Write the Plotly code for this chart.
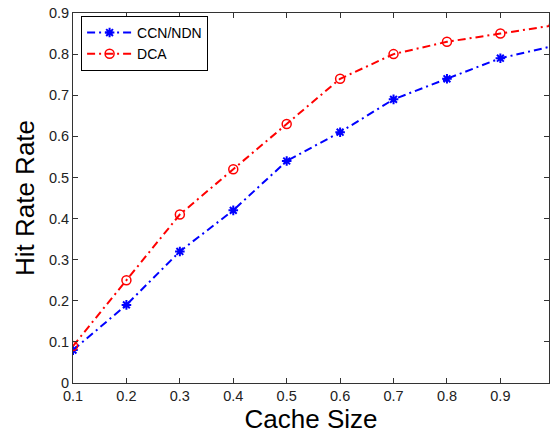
import plotly.graph_objects as go

cache_size = [0.1, 0.2, 0.3, 0.4, 0.5, 0.6, 0.7, 0.8, 0.9, 1.0]
ccn_ndn = [0.08, 0.19, 0.32, 0.42, 0.54, 0.61, 0.69, 0.74, 0.79, 0.82]
dca = [0.09, 0.25, 0.41, 0.52, 0.63, 0.74, 0.80, 0.83, 0.85, 0.87]

x_ticks = [0.1, 0.2, 0.3, 0.4, 0.5, 0.6, 0.7, 0.8, 0.9]
x_tick_labels = ["0.1", "0.2", "0.3", "0.4", "0.5", "0.6", "0.7", "0.8", "0.9"]
y_ticks = [0, 0.1, 0.2, 0.3, 0.4, 0.5, 0.6, 0.7, 0.8, 0.9]
y_tick_labels = ["0", "0.1", "0.2", "0.3", "0.4", "0.5", "0.6", "0.7", "0.8", "0.9"]

fig = go.Figure()
fig.add_trace(go.Scatter(
    x=cache_size, y=ccn_ndn, name="CCN/NDN", mode="lines+markers",
    line=dict(color="#0000ff", width=2, dash="8px,4px,2px,4px"),
    marker=dict(symbol="asterisk-open", size=8, color="#0000ff",
                line=dict(color="#0000ff", width=2)),
))
fig.add_trace(go.Scatter(
    x=cache_size, y=dca, name="DCA", mode="lines+markers",
    line=dict(color="#ff0000", width=2, dash="8px,4px,2px,4px"),
    marker=dict(symbol="circle-open", size=9, color="#ff0000",
                line=dict(color="#ff0000", width=1.5)),
))

axis_common = dict(
    showgrid=False, zeroline=False, showline=True, linecolor="#333333",
    linewidth=1, mirror="ticks", ticks="inside", ticklen=5,
    tickcolor="#333333", tickfont=dict(family="Liberation Sans, Arial", size=14.5, color="#222222"),
)

fig.update_layout(
    width=550, height=439,
    margin=dict(l=73, r=1, t=13, b=56),
    paper_bgcolor="white", plot_bgcolor="white",
    font=dict(family="Liberation Sans, Arial", color="black"),
    xaxis=dict(range=[0.1, 0.991], tickvals=x_ticks, ticktext=x_tick_labels,
               title=dict(text="Cache Size", font=dict(size=26), standoff=6),
               **axis_common),
    yaxis=dict(range=[0, 0.9], tickvals=y_ticks, ticktext=y_tick_labels,
               title=dict(text="Hit Rate Rate", font=dict(size=26), standoff=6),
               **axis_common),
    legend=dict(x=0.017, y=0.992, xanchor="left", yanchor="top",
                bgcolor="white", bordercolor="black", borderwidth=1,
                font=dict(size=14), tracegroupgap=0,
                itemwidth=45),
    showlegend=True,
)

fig.write_html("out.html")
